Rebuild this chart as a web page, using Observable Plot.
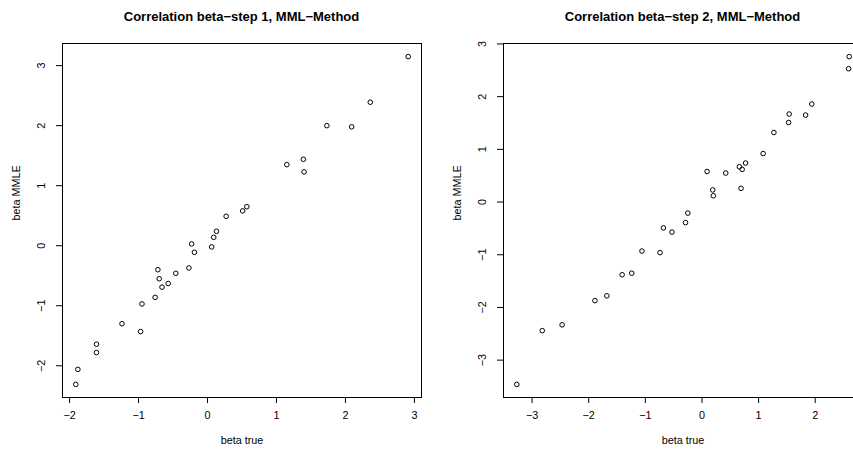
<!DOCTYPE html>
<html><head><meta charset="utf-8">
<script src="https://cdn.jsdelivr.net/npm/d3@7"></script>
<script src="https://cdn.jsdelivr.net/npm/@observablehq/plot@0.6"></script>
<style>
body{margin:0;background:#fff;}
#wrap{position:relative;width:853px;height:455px;overflow:hidden;background:#fff;}
.panel{position:absolute;top:0;width:441px;height:455px;}
.title{box-sizing:border-box;font:bold 13px "Liberation Sans",Arial,sans-serif;height:34px;line-height:34px;padding:0 20px 0 62px;text-align:center;color:#000;white-space:nowrap;}
</style>
</head><body>
<div id="wrap"></div>
<script>
const titles = ["Correlation beta\u2212step 1, MML\u2212Method", "Correlation beta\u2212step 2, MML\u2212Method"];
const xLabel = "beta true";
const yLabel = "beta MMLE";

const step1True = [2.91, 2.36, 1.73, 2.09, 1.15, 1.39, 1.40, 0.27, 0.51, 0.57, 0.13, 0.09, 0.06, -0.23, -0.19, -0.27, -0.46, -0.57, -0.66, -0.70, -0.72, -0.76, -0.95, -0.97, -1.24, -1.61, -1.61, -1.88, -1.91];
const step1Mmle = [3.15, 2.39, 2.00, 1.98, 1.35, 1.44, 1.23, 0.49, 0.58, 0.65, 0.24, 0.14, -0.02, 0.03, -0.11, -0.37, -0.46, -0.63, -0.69, -0.55, -0.40, -0.86, -0.97, -1.43, -1.30, -1.64, -1.78, -2.06, -2.31];

const step2True = [2.60, 2.59, 1.94, 1.83, 1.54, 1.53, 1.27, 1.08, 0.77, 0.66, 0.71, 0.69, 0.42, 0.09, 0.19, 0.20, -0.25, -0.29, -0.68, -0.53, -1.06, -0.74, -1.41, -1.24, -1.68, -1.89, -2.47, -2.82, -3.27];
const step2Mmle = [2.76, 2.53, 1.86, 1.65, 1.67, 1.51, 1.32, 0.92, 0.74, 0.67, 0.62, 0.26, 0.55, 0.58, 0.23, 0.12, -0.21, -0.39, -0.49, -0.57, -0.93, -0.96, -1.38, -1.35, -1.78, -1.87, -2.33, -2.44, -3.46];

const xTicks1 = [-2, -1, 0, 1, 2, 3];
const yTicks1 = [-2, -1, 0, 1, 2, 3];
const xTicks2 = [-3, -2, -1, 0, 1, 2];
const yTicks2 = [-3, -2, -1, 0, 1, 2, 3];

function padded(v) {
  const [a, b] = d3.extent(v);
  const p = (b - a) * 0.04;
  return [a - p, b + p];
}

function panel(xs, ys, xt, yt, title, left) {
  const data = xs.map((x, i) => ({x, y: ys[i]}));
  const div = document.createElement("div");
  div.className = "panel";
  div.style.left = left + "px";
  const t = document.createElement("div");
  t.className = "title";
  t.textContent = title;
  div.appendChild(t);
  const chart = Plot.plot({
    width: 441, height: 421,
    marginLeft: 62, marginRight: 20, marginTop: 9, marginBottom: 58,
    style: {fontFamily: "'Liberation Sans', Arial, sans-serif", fontSize: "10.8px", color: "#000", background: "#fff", overflow: "visible"},
    x: {domain: padded(xs)},
    y: {domain: padded(ys)},
    marks: [
      Plot.frame({stroke: "#000", strokeWidth: 1}),
      Plot.dot(data, {x: "x", y: "y", r: 2.3, stroke: "#000", strokeWidth: 1, fill: "none"}),
      Plot.axisX({ticks: xt, tickSize: 6, tickPadding: 8, label: null, tickFormat: d3.format("")}),
      Plot.axisY({ticks: yt, tickSize: 6, tickRotate: -90, tickPadding: 12, label: null, tickFormat: d3.format("")}),
      Plot.text([xLabel], {text: d => d, frameAnchor: "bottom", dy: 46}),
      Plot.text([yLabel], {text: d => d, frameAnchor: "left", dx: -46, rotate: -90})
    ]
  });
  div.appendChild(chart);
  document.getElementById("wrap").appendChild(div);
}

panel(step1True, step1Mmle, xTicks1, yTicks1, titles[0], 0);
panel(step2True, step2Mmle, xTicks2, yTicks2, titles[1], 441);
</script>
</body></html>
